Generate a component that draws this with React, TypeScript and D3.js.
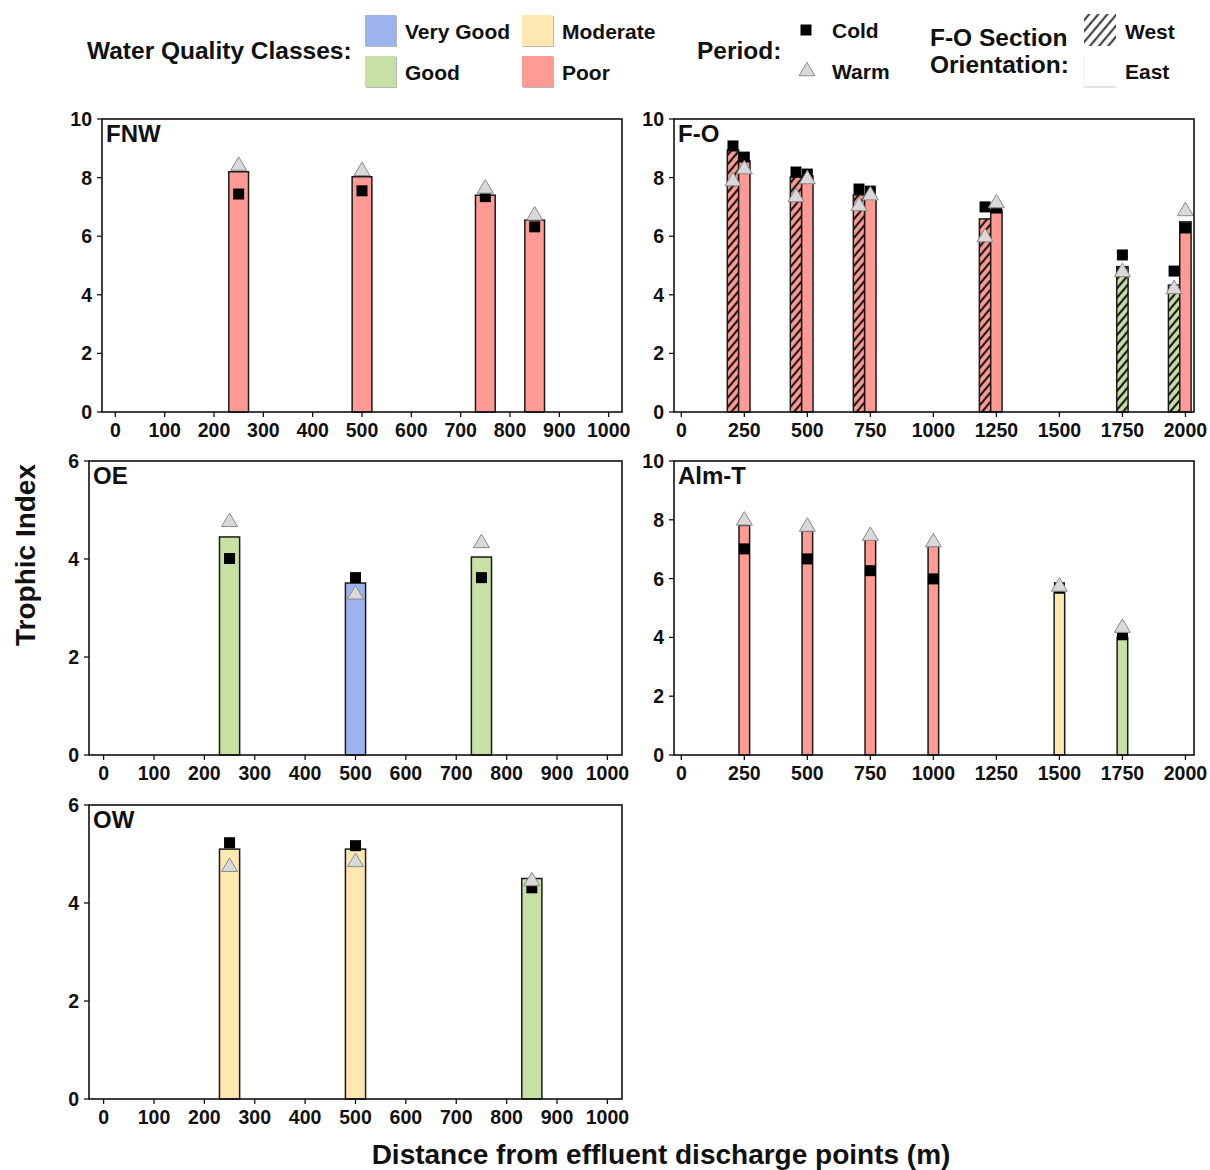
import React from 'react';
import * as d3 from 'd3';

// ---------------- Data ----------------
const CLASS_NAMES = ['Very Good', 'Good', 'Moderate', 'Poor'];
const CLASS_COLORS = ['#9db3ee', '#c6e0a5', '#ffe7b1', '#ff9a94'];

const FNW_DIST = [250, 500, 750, 850];
const FNW_INDEX = [8.2, 8.03, 7.4, 6.55];
const FNW_CLASS = ['Poor', 'Poor', 'Poor', 'Poor'];
const FNW_COLD = [7.44, 7.55, 7.35, 6.32];
const FNW_WARM = [8.48, 8.3, 7.7, 6.78];

const FO_WEST_DIST = [250, 500, 750, 1250, 1750, 2000];
const FO_WEST_INDEX = [8.94, 8.02, 7.41, 6.59, 4.96, 4.33];
const FO_WEST_CLASS = ['Poor', 'Poor', 'Poor', 'Poor', 'Good', 'Good'];
const FO_WEST_COLD = [9.08, 8.19, 7.61, 7.0, 5.36, 4.81];
const FO_WEST_WARM = [7.95, 7.41, 7.1, 6.04, 4.85, 4.27];

const FO_EAST_DIST = [250, 500, 750, 1250, 2000];
const FO_EAST_INDEX = [8.57, 8.05, 7.34, 6.89, 6.49];
const FO_EAST_CLASS = ['Poor', 'Poor', 'Poor', 'Poor', 'Poor'];
const FO_EAST_COLD = [8.7, 8.12, 7.54, 6.96, 6.28];
const FO_EAST_WARM = [8.36, 8.02, 7.47, 7.2, 6.93];

const OE_DIST = [250, 500, 750];
const OE_INDEX = [4.45, 3.51, 4.04];
const OE_CLASS = ['Good', 'Very Good', 'Good'];
const OE_COLD = [4.01, 3.62, 3.62];
const OE_WARM = [4.8, 3.32, 4.37];

const ALMT_DIST = [250, 500, 750, 1000, 1500, 1750];
const ALMT_INDEX = [7.81, 7.61, 7.33, 7.1, 5.51, 4.0];
const ALMT_CLASS = ['Poor', 'Poor', 'Poor', 'Poor', 'Moderate', 'Good'];
const ALMT_COLD = [7.01, 6.67, 6.27, 5.99, 5.69, 4.09];
const ALMT_WARM = [8.05, 7.84, 7.53, 7.31, 5.8, 4.4];

const OW_DIST = [250, 500, 850];
const OW_INDEX = [5.1, 5.1, 4.5];
const OW_CLASS = ['Moderate', 'Moderate', 'Good'];
const OW_COLD = [5.23, 5.17, 4.31];
const OW_WARM = [4.78, 4.88, 4.49];

const X_TICKS_1000 = [0, 100, 200, 300, 400, 500, 600, 700, 800, 900, 1000];
const X_TICKS_2000 = [0, 250, 500, 750, 1000, 1250, 1500, 1750, 2000];
const Y_TICKS_10 = [0, 2, 4, 6, 8, 10];
const Y_TICKS_6 = [0, 2, 4, 6];

const Y_TITLE = 'Trophic Index';
const X_TITLE = 'Distance from effluent discharge points (m)';

// ---------------- Styling / layout ----------------
const FONT = "'Liberation Sans', Arial, Helvetica, sans-serif";
const W = 1210;
const H = 1170;

const colorOf = (c: string) => CLASS_COLORS[CLASS_NAMES.indexOf(c)];
const hatchId = (c: string) => `hatch-${CLASS_NAMES.indexOf(c)}`;

type Series = {
  dist: number[];
  index: number[];
  cls: string[];
  cold: number[];
  warm: number[];
  orient?: 'West' | 'East';
};

type PanelProps = {
  name: string;
  series: Series[];
  frame: { x0: number; x1: number; y0: number; y1: number };
  xDomain: [number, number];
  yMax: number;
  xTicks: number[];
  yTicks: number[];
  barW: number;
};

function Triangle({ cx, cy }: { cx: number; cy: number }) {
  const w = 16;
  const h = 13.5;
  const p = [
    [cx, cy - h / 2],
    [cx + w / 2, cy + h / 2],
    [cx - w / 2, cy + h / 2],
  ];
  return (
    <path
      d={d3.line()(p as [number, number][]) + 'Z'}
      fill="#d9d9d9"
      stroke="#8a8a8a"
      strokeWidth={1}
    />
  );
}

function Square({ cx, cy }: { cx: number; cy: number }) {
  const s = 11;
  return <rect x={cx - s / 2} y={cy - s / 2} width={s} height={s} fill="#000" />;
}

function Panel({ name, series, frame, xDomain, yMax, xTicks, yTicks, barW }: PanelProps) {
  const x = d3.scaleLinear().domain(xDomain).range([frame.x0, frame.x1]);
  const y = d3.scaleLinear().domain([0, yMax]).range([frame.y1, frame.y0]);

  const eastDists = new Set<number>();
  series.forEach((s) => {
    if (s.orient === 'East') s.dist.forEach((d) => eastDists.add(d));
  });

  const items: { cx: number; x0: number; x1: number; v: number; cls: string; cold: number; warm: number; hatched: boolean }[] = [];
  series.forEach((s) => {
    s.dist.forEach((d, i) => {
      let a = d - barW / 2;
      let b = d + barW / 2;
      if (s.orient === 'West' && eastDists.has(d)) {
        a = d - 1.5 * barW;
        b = d - 0.5 * barW;
      }
      items.push({
        cx: (x(a) + x(b)) / 2,
        x0: x(a),
        x1: x(b),
        v: s.index[i],
        cls: s.cls[i],
        cold: s.cold[i],
        warm: s.warm[i],
        hatched: s.orient === 'West',
      });
    });
  });

  return (
    <g>
      {items.map((it, i) => (
        <rect
          key={'b' + i}
          x={it.x0}
          y={y(it.v)}
          width={it.x1 - it.x0}
          height={y(0) - y(it.v)}
          fill={it.hatched ? `url(#${hatchId(it.cls)})` : colorOf(it.cls)}
          stroke="#1a1a1a"
          strokeWidth={1.5}
        />
      ))}
      {items.map((it, i) => (
        <Square key={'s' + i} cx={it.cx} cy={y(it.cold)} />
      ))}
      {items.map((it, i) => (
        <Triangle key={'t' + i} cx={it.cx} cy={y(it.warm)} />
      ))}
      <rect
        x={frame.x0}
        y={frame.y0}
        width={frame.x1 - frame.x0}
        height={frame.y1 - frame.y0}
        fill="none"
        stroke="#111"
        strokeWidth={1.6}
      />
      {yTicks.map((t) => (
        <g key={'yt' + t}>
          <line x1={frame.x0 - 5} x2={frame.x0} y1={y(t)} y2={y(t)} stroke="#111" strokeWidth={1.3} />
          <text
            x={frame.x0 - 10}
            y={y(t)}
            dy="0.36em"
            textAnchor="end"
            fontFamily={FONT}
            fontWeight="bold"
            fontSize={19.5}
            fill="#111"
          >
            {t}
          </text>
        </g>
      ))}
      {xTicks.map((t) => (
        <g key={'xt' + t}>
          <line x1={x(t)} x2={x(t)} y1={frame.y1} y2={frame.y1 + 5} stroke="#111" strokeWidth={1.3} />
          <text
            x={x(t)}
            y={frame.y1 + 25}
            textAnchor="middle"
            fontFamily={FONT}
            fontWeight="bold"
            fontSize={19.5}
            fill="#111"
          >
            {t}
          </text>
        </g>
      ))}
      <text x={frame.x0 + 4} y={frame.y0 + 23} fontFamily={FONT} fontWeight="bold" fontSize={24} fill="#111">
        {name}
      </text>
    </g>
  );
}

function Legend() {
  const t = { fontFamily: FONT, fontWeight: 'bold' as const, fill: '#111' };
  const sw = 31;
  const swatches = [
    { cls: 'Very Good', x: 365, y: 15 },
    { cls: 'Good', x: 365, y: 56 },
    { cls: 'Moderate', x: 522, y: 15 },
    { cls: 'Poor', x: 522, y: 56 },
  ];
  return (
    <g>
      <text x={87} y={59} fontSize={24.5} {...t}>Water Quality Classes:</text>
      {swatches.map((s) => (
        <g key={s.cls}>
          <rect x={s.x + 1} y={s.y + 1} width={sw} height={sw} fill="#b8b8b8" />
          <rect x={s.x} y={s.y} width={sw} height={sw} fill={colorOf(s.cls)} />
          <text x={s.x + 40} y={s.y + 24} fontSize={21} {...t}>{s.cls}</text>
        </g>
      ))}
      <text x={697} y={59} fontSize={24.5} {...t}>Period:</text>
      <Square cx={806} cy={30} />
      <text x={832} y={38} fontSize={21} {...t}>Cold</text>
      <Triangle cx={807} cy={69} />
      <text x={832} y={79} fontSize={21} {...t}>Warm</text>
      <text x={930} y={46} fontSize={24.5} {...t}>F-O Section</text>
      <text x={930} y={73} fontSize={24.5} {...t}>Orientation:</text>
      <rect x={1084} y={14} width={32} height={32} fill="url(#hatch-legend)" />
      <text x={1125} y={39} fontSize={21} {...t}>West</text>
      <rect x={1084} y={56} width={32} height={31} fill="#fff" />
      <line x1={1084} x2={1116} y1={87} y2={87} stroke="#c8c8c8" strokeWidth={1} />
      <line x1={1084} x2={1084} y1={56} y2={87} stroke="#ececec" strokeWidth={1} />
      <text x={1125} y={79} fontSize={21} {...t}>East</text>
    </g>
  );
}

export default function App() {
  const panels: PanelProps[] = [
    {
      name: 'FNW',
      series: [{ dist: FNW_DIST, index: FNW_INDEX, cls: FNW_CLASS, cold: FNW_COLD, warm: FNW_WARM }],
      frame: { x0: 102, x1: 622, y0: 119, y1: 412 },
      xDomain: [-27, 1027],
      yMax: 10,
      xTicks: X_TICKS_1000,
      yTicks: Y_TICKS_10,
      barW: 40,
    },
    {
      name: 'F-O',
      series: [
        { dist: FO_WEST_DIST, index: FO_WEST_INDEX, cls: FO_WEST_CLASS, cold: FO_WEST_COLD, warm: FO_WEST_WARM, orient: 'West' },
        { dist: FO_EAST_DIST, index: FO_EAST_INDEX, cls: FO_EAST_CLASS, cold: FO_EAST_COLD, warm: FO_EAST_WARM, orient: 'East' },
      ],
      frame: { x0: 674, x1: 1194, y0: 119, y1: 412 },
      xDomain: [-29, 2034],
      yMax: 10,
      xTicks: X_TICKS_2000,
      yTicks: Y_TICKS_10,
      barW: 45,
    },
    {
      name: 'OE',
      series: [{ dist: OE_DIST, index: OE_INDEX, cls: OE_CLASS, cold: OE_COLD, warm: OE_WARM }],
      frame: { x0: 89, x1: 622, y0: 461, y1: 755 },
      xDomain: [-29, 1029],
      yMax: 6,
      xTicks: X_TICKS_1000,
      yTicks: Y_TICKS_6,
      barW: 40,
    },
    {
      name: 'Alm-T',
      series: [{ dist: ALMT_DIST, index: ALMT_INDEX, cls: ALMT_CLASS, cold: ALMT_COLD, warm: ALMT_WARM }],
      frame: { x0: 674, x1: 1194, y0: 461, y1: 755 },
      xDomain: [-29, 2034],
      yMax: 10,
      xTicks: X_TICKS_2000,
      yTicks: Y_TICKS_10,
      barW: 42,
    },
    {
      name: 'OW',
      series: [{ dist: OW_DIST, index: OW_INDEX, cls: OW_CLASS, cold: OW_COLD, warm: OW_WARM }],
      frame: { x0: 89, x1: 622, y0: 805, y1: 1099 },
      xDomain: [-29, 1029],
      yMax: 6,
      xTicks: X_TICKS_1000,
      yTicks: Y_TICKS_6,
      barW: 40,
    },
  ];

  return (
    <svg
      width={W}
      height={H}
      viewBox={`0 0 ${W} ${H}`}
      style={{ position: 'absolute', left: 0, top: 0, display: 'block', background: '#fff' }}
    >
      <defs>
        {CLASS_NAMES.map((c, i) => (
          <pattern
            key={c}
            id={`hatch-${i}`}
            patternUnits="userSpaceOnUse"
            width={6}
            height={6}
            patternTransform="rotate(40)"
          >
            <rect width={6} height={6} fill={CLASS_COLORS[i]} />
            <line x1={3} x2={3} y1={0} y2={6} stroke="#1a1a1a" strokeWidth={2.2} />
          </pattern>
        ))}
        <pattern id="hatch-legend" patternUnits="userSpaceOnUse" width={7} height={7} patternTransform="rotate(40)">
          <rect width={7} height={7} fill="#fff" />
          <line x1={3.5} x2={3.5} y1={0} y2={7} stroke="#1a1a1a" strokeWidth={1.8} />
        </pattern>
      </defs>
      <rect width={W} height={H} fill="#fff" />
      <Legend />
      {panels.map((p) => (
        <Panel key={p.name} {...p} />
      ))}
      <text
        transform="translate(35,555) rotate(-90)"
        textAnchor="middle"
        fontFamily={FONT}
        fontWeight="bold"
        fontSize={28}
        fill="#111"
      >
        {Y_TITLE}
      </text>
      <text x={661} y={1164} textAnchor="middle" fontFamily={FONT} fontWeight="bold" fontSize={28} fill="#111">
        {X_TITLE}
      </text>
    </svg>
  );
}
